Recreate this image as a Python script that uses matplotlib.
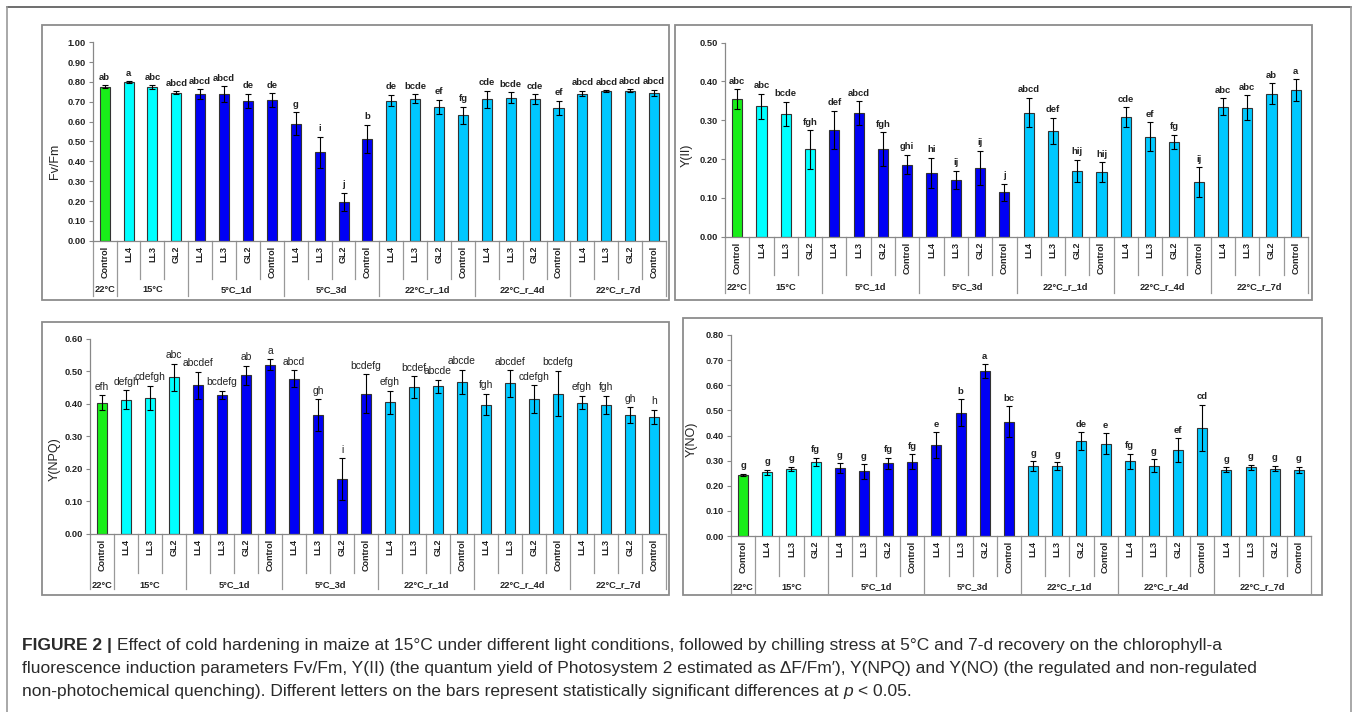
import numpy as np
import matplotlib
matplotlib.use("Agg")
import matplotlib.pyplot as plt
import matplotlib.transforms as mtransforms
from matplotlib.lines import Line2D
from matplotlib.patches import Rectangle

plt.rcParams['font.family'] = ['Liberation Sans', 'DejaVu Sans']

W, H = 1355, 712

# ---- data ----
treatments = ['Control',
              'LL4', 'LL3', 'GL2',
              'LL4', 'LL3', 'GL2', 'Control',
              'LL4', 'LL3', 'GL2', 'Control',
              'LL4', 'LL3', 'GL2', 'Control',
              'LL4', 'LL3', 'GL2', 'Control',
              'LL4', 'LL3', 'GL2', 'Control']
group_names = ['22°C', '15°C', '5°C_1d', '5°C_3d', '22°C_r_1d', '22°C_r_4d', '22°C_r_7d']
group_sizes = [1, 3, 4, 4, 4, 4, 4]
group_colors = ['#19ee19', '#00ffff', '#0000f5', '#0000f5', '#00c8ff', '#00c8ff', '#00c8ff']

fvfm = [0.776, 0.800, 0.775, 0.746, 0.738, 0.738, 0.704, 0.709, 0.590, 0.445, 0.195, 0.513,
        0.706, 0.716, 0.676, 0.632, 0.713, 0.721, 0.713, 0.671, 0.741, 0.755, 0.756, 0.745]
fvfm_err = [0.008, 0.003, 0.008, 0.008, 0.026, 0.040, 0.037, 0.033, 0.057, 0.080, 0.047, 0.071,
            0.029, 0.023, 0.035, 0.044, 0.042, 0.028, 0.024, 0.035, 0.014, 0.004, 0.008, 0.017]
fvfm_let = ['ab', 'a', 'abc', 'abcd', 'abcd', 'abcd', 'de', 'de', 'g', 'i', 'j', 'b',
            'de', 'bcde', 'ef', 'fg', 'cde', 'bcde', 'cde', 'ef', 'abcd', 'abcd', 'abcd', 'abcd']

yii = [0.354, 0.336, 0.317, 0.225, 0.275, 0.318, 0.225, 0.186, 0.164, 0.146, 0.177, 0.115,
       0.320, 0.272, 0.170, 0.166, 0.308, 0.258, 0.245, 0.141, 0.335, 0.332, 0.369, 0.378]
yii_err = [0.026, 0.032, 0.031, 0.050, 0.050, 0.031, 0.044, 0.025, 0.039, 0.024, 0.044, 0.022,
           0.038, 0.034, 0.028, 0.026, 0.026, 0.037, 0.018, 0.038, 0.022, 0.032, 0.027, 0.028]
yii_let = ['abc', 'abc', 'bcde', 'fgh', 'def', 'abcd', 'fgh', 'ghi', 'hi', 'ij', 'ij', 'j',
           'abcd', 'def', 'hij', 'hij', 'cde', 'ef', 'fg', 'ij', 'abc', 'abc', 'ab', 'a']

ynpq = [0.404, 0.413, 0.418, 0.482, 0.457, 0.428, 0.488, 0.521, 0.478, 0.366, 0.168, 0.432,
        0.405, 0.452, 0.455, 0.468, 0.398, 0.463, 0.415, 0.432, 0.404, 0.397, 0.366, 0.360]
ynpq_err = [0.023, 0.029, 0.038, 0.042, 0.042, 0.012, 0.030, 0.016, 0.026, 0.049, 0.065, 0.059,
            0.036, 0.034, 0.020, 0.037, 0.033, 0.041, 0.042, 0.070, 0.021, 0.028, 0.024, 0.022]
ynpq_let = ['efh', 'defgh', 'cdefgh', 'abc', 'abcdef', 'bcdefg', 'ab', 'a', 'abcd', 'gh', 'i', 'bcdefg',
            'efgh', 'bcdef', 'abcde', 'abcde', 'fgh', 'abcdef', 'cdefgh', 'bcdefg', 'efgh', 'fgh', 'gh', 'h']

yno = [0.243, 0.253, 0.267, 0.295, 0.269, 0.257, 0.290, 0.296, 0.362, 0.491, 0.655, 0.455,
       0.277, 0.277, 0.377, 0.367, 0.298, 0.280, 0.342, 0.430, 0.264, 0.273, 0.268, 0.264]
yno_err = [0.005, 0.011, 0.008, 0.016, 0.020, 0.029, 0.022, 0.030, 0.050, 0.053, 0.028, 0.062,
           0.020, 0.016, 0.036, 0.042, 0.030, 0.025, 0.047, 0.093, 0.009, 0.010, 0.011, 0.012]
yno_let = ['g', 'g', 'g', 'fg', 'g', 'g', 'fg', 'fg', 'e', 'b', 'a', 'bc',
           'g', 'g', 'de', 'e', 'fg', 'g', 'ef', 'cd', 'g', 'g', 'g', 'g']

# panel layout in pixels: frame box, axes box (left, top, right, bottom), label rows
panels = [
    dict(vals=fvfm, errs=fvfm_err, lets=fvfm_let, ylabel='Fv/Fm', ymax=1.0, step=0.1, bold=True,
         frame=(42, 25, 669, 300), ax=(92.7, 42.3, 666, 240.7),
         sep=279, grp=290, gsep=296, ylab=(55, 161)),
    dict(vals=yii, errs=yii_err, lets=yii_let, ylabel='Y(II)', ymax=0.5, step=0.1, bold=True,
         frame=(675, 25, 1312, 300), ax=(725, 42.7, 1308, 236.7),
         sep=275, grp=287, gsep=293, ylab=(687, 155)),
    dict(vals=ynpq, errs=ynpq_err, lets=ynpq_let, ylabel='Y(NPQ)', ymax=0.6, step=0.1, bold=False,
         frame=(42, 322, 669, 595), ax=(90, 339, 666, 533.7),
         sep=573, grp=585, gsep=589, ylab=(55, 459)),
    dict(vals=yno, errs=yno_err, lets=yno_let, ylabel='Y(NO)', ymax=0.8, step=0.1, bold=True,
         frame=(683, 318, 1322, 595), ax=(731, 335, 1311, 536),
         sep=576, grp=587, gsep=593, ylab=(692, 439)),
]

fig = plt.figure(figsize=(W / 100, H / 100), dpi=100)

# outer frame
fig.add_artist(Line2D([7 / W, 1351 / W], [1 - 7 / H, 1 - 7 / H], color='#555555', lw=1.2))
fig.add_artist(Line2D([7 / W, 7 / W], [1 - 7 / H, 0], color='#999999', lw=1.2))
fig.add_artist(Line2D([1351 / W, 1351 / W], [1 - 7 / H, 0], color='#999999', lw=1.2))

bar_colors = []
for c, n in zip(group_colors, group_sizes):
    bar_colors += [c] * n
bounds = np.cumsum([0] + group_sizes)
x = np.arange(len(treatments))

for p in panels:
    fx0, fy0, fx1, fy1 = p['frame']
    fig.add_artist(Rectangle((fx0 / W, 1 - fy1 / H), (fx1 - fx0) / W, (fy1 - fy0) / H,
                             fill=False, ec='#8c8c8c', lw=1.3))
    ax0, ayt, ax1, ayb = p['ax']
    ax = fig.add_axes([ax0 / W, 1 - ayb / H, (ax1 - ax0) / W, (ayb - ayt) / H])
    ax.bar(x, p['vals'], width=0.42, color=bar_colors, edgecolor='#333333', linewidth=0.8,
           yerr=p['errs'], error_kw=dict(ecolor='black', elinewidth=0.8, capsize=2.2, capthick=0.8))
    for i, (v, e, l) in enumerate(zip(p['vals'], p['errs'], p['lets'])):
        ax.annotate(l, (i, v + e), xytext=(0, 2.5), textcoords='offset points',
                    ha='center', va='bottom', fontsize=6.8 if p['bold'] else 7.4,
                    fontweight='bold' if p['bold'] else 'normal', color='#222222')
    ax.set_xlim(-0.5, len(x) - 0.5)
    ax.set_ylim(0, p['ymax'])
    ticks = np.arange(0, p['ymax'] + 1e-9, p['step'])
    ax.set_yticks(ticks)
    ax.set_yticklabels(['{:.2f}'.format(t) for t in ticks], fontsize=6.7, fontweight='bold', color='#222222')
    ax.set_xticks([])
    ax.tick_params(axis='y', length=3, width=0.8, color='#888888', pad=2)
    for s in ['top', 'right']:
        ax.spines[s].set_visible(False)
    for s in ['left', 'bottom']:
        ax.spines[s].set_color('#888888')
        ax.spines[s].set_linewidth(0.9)
    ax.patch.set_alpha(0)

    # category table under the axis
    h = ayb - ayt
    fr = lambda py: (ayb - py) / h
    tr = mtransforms.blended_transform_factory(ax.transData, ax.transAxes)
    for b in range(len(x) + 1):
        yend = p['gsep'] if b in bounds else p['sep']
        ax.add_line(Line2D([b - 0.5, b - 0.5], [0, fr(yend)], transform=tr,
                           color='#999999', lw=0.9, clip_on=False))
    for i, t in enumerate(treatments):
        ax.text(i, fr(ayb + 5), t, transform=tr, rotation=90, ha='center', va='top',
                fontsize=6.5, fontweight='bold', color='#222222')
    for g, name in enumerate(group_names):
        xc = (bounds[g] + bounds[g + 1] - 1) / 2
        ax.text(xc, fr(p['grp']), name, transform=tr, ha='center', va='center',
                fontsize=6.7, fontweight='bold', color='#222222')
    lx, ly = p['ylab']
    fig.text(lx / W, 1 - ly / H, p['ylabel'], rotation=90, ha='center', va='center',
             fontsize=9, color='#222222')

# caption
cap_fs = 12.5
renderer = fig.canvas.get_renderer()
space = 0.278 * cap_fs * 100 / 72


def put(txt, xp, yp, **kw):
    t = fig.text(xp / W, 1 - yp / H, txt, ha='left', va='baseline', fontsize=cap_fs,
                 color='#2a2a2a', **kw)
    return xp + t.get_window_extent(renderer).width


xp = put('FIGURE 2 |', 22, 650, fontweight='bold')
put('Effect of cold hardening in maize at 15°C under different light conditions, followed by chilling '
    'stress at 5°C and 7-d recovery on the chlorophyll-a', xp + space, 650)
put('fluorescence induction parameters Fv/Fm, Y(II) (the quantum yield of Photosystem 2 estimated as '
    'ΔF/Fm′), Y(NPQ) and Y(NO) (the regulated and non-regulated', 22, 673)
xp = put('non-photochemical quenching). Different letters on the bars represent statistically '
         'significant differences at', 22, 696)
xp = put('p', xp + space, 696, fontstyle='italic')
put('< 0.05.', xp + space, 696)

fig.savefig('out.png', dpi=100)
